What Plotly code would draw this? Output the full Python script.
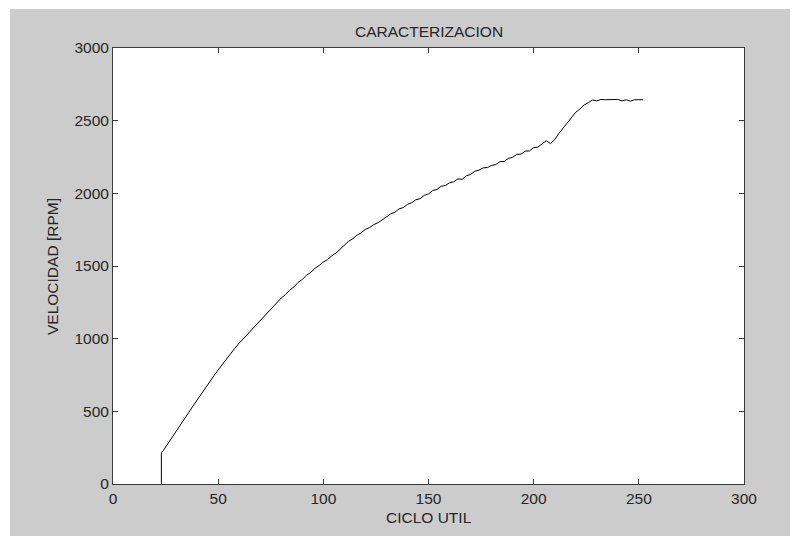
import plotly.graph_objects as go

# Duty cycle (CICLO UTIL) sweep and measured motor speed in RPM
ciclo = [23, 23,
         24, 26, 28, 30, 32, 34, 36, 38, 40, 42, 44, 46, 48, 50, 52, 54, 56, 58,
         60, 62, 64, 66, 68, 70, 72, 74, 76, 78, 80, 82, 84, 86, 88, 90, 92, 94,
         96, 98, 100, 102, 104, 106, 108, 110, 112, 114, 116, 118, 120, 122, 124,
         126, 128, 130, 132, 134, 136, 138, 140, 142, 144, 146, 148, 150, 152, 154,
         156, 158, 160, 162, 164, 166, 168, 170, 172, 174, 176, 178, 180, 182, 184,
         186, 188, 190, 192, 194, 196, 198, 200, 202, 204, 206, 208, 210, 212, 214,
         216, 218, 220, 222, 224, 226, 228, 230, 232, 234, 236, 238, 240, 242, 244,
         246, 248, 250, 252]

velocidad = [0, 215,
             232, 274, 317, 360, 404, 448, 492, 536, 579, 622, 664, 705, 745, 785,
             824, 862, 899, 935, 969, 1000, 1031, 1062, 1093, 1124, 1156, 1188, 1220,
             1250, 1280, 1303, 1334, 1356, 1387, 1408, 1436, 1456, 1484, 1503, 1527,
             1544, 1570, 1589, 1616, 1638, 1670, 1688, 1712, 1729, 1752, 1764, 1785,
             1798, 1820, 1838, 1858, 1870, 1893, 1902, 1924, 1935, 1956, 1963, 1986,
             1996, 2020, 2026, 2049, 2054, 2072, 2080, 2100, 2096, 2120, 2130, 2152,
             2160, 2175, 2178, 2192, 2198, 2218, 2220, 2240, 2248, 2268, 2270, 2290,
             2292, 2314, 2318, 2340, 2362, 2342, 2370, 2412, 2448, 2490, 2520, 2558,
             2580, 2608, 2624, 2642, 2636, 2646, 2644, 2646, 2646, 2646, 2636, 2644,
             2634, 2644, 2644, 2644]

x_ticks = [0, 50, 100, 150, 200, 250, 300]
y_ticks = [0, 500, 1000, 1500, 2000, 2500, 3000]

FONT = "Liberation Sans, Arial, sans-serif"
TXT = "#262626"
GRAY = "#cccccc"
AX = "#3a3a3a"

fig = go.Figure()
fig.add_trace(go.Scatter(x=ciclo, y=velocidad, mode="lines",
                         line=dict(color="black", width=1), showlegend=False))

axis_common = dict(showline=True, linecolor=AX, linewidth=1, mirror="ticks",
                   ticks="inside", ticklen=5, tickcolor=AX, tickwidth=1,
                   showgrid=False, zeroline=False,
                   tickfont=dict(family=FONT, size=15.5, color=TXT))

fig.update_xaxes(range=[0, 300], tickvals=x_ticks, **axis_common)
fig.update_yaxes(range=[0, 3000], tickvals=y_ticks, **axis_common)

# Gray figure frame with white plotting area
shapes = [
    dict(type="rect", xref="paper", yref="paper", x0=-0.1632, x1=1.0729,
         y0=-0.1193, y1=1.0894, fillcolor=GRAY, line=dict(width=0), layer="below"),
    dict(type="rect", xref="paper", yref="paper", x0=0, x1=1, y0=0, y1=1,
         fillcolor="white", line=dict(width=0), layer="below"),
]

annotations = [
    dict(text="CARACTERIZACION", xref="paper", yref="paper", x=0.5, y=1.0367,
         xanchor="center", yanchor="middle", showarrow=False,
         font=dict(family=FONT, size=15.5, color=TXT)),
    dict(text="CICLO UTIL", xref="paper", yref="paper", x=0.5, y=-0.0757,
         xanchor="center", yanchor="middle", showarrow=False,
         font=dict(family=FONT, size=15.5, color=TXT)),
    dict(text="VELOCIDAD [RPM]", xref="paper", yref="paper", x=-0.0967, y=0.5,
         xanchor="center", yanchor="middle", showarrow=False, textangle=-90,
         font=dict(family=FONT, size=15.5, color=TXT)),
]

fig.update_layout(
    width=796, height=536,
    margin=dict(l=113, r=52, t=48, b=52),
    paper_bgcolor="white", plot_bgcolor="white",
    shapes=shapes, annotations=annotations,
    showlegend=False,
)

fig.write_html("out.html")
